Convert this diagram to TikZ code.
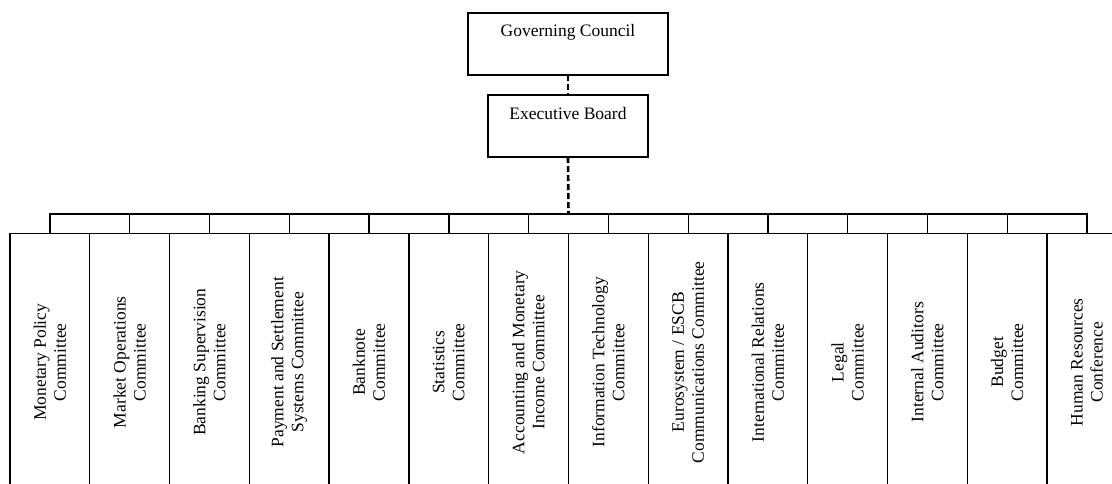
\documentclass[tikz,border=0pt]{standalone}
\usepackage{fontspec}
\setmainfont{Liberation Serif}
\begin{document}
\begin{tikzpicture}[x=1pt,y=-1pt,
  every node/.style={font=\fontsize{17.5}{20}\selectfont},
  frame/.style={draw, line width=1.3pt, inner sep=0pt, outer sep=0pt},
  topbox/.style={frame, minimum height=62pt},
  stripbox/.style={frame, minimum width=79.77pt, minimum height=19.7pt, anchor=north west},
  colbox/.style={frame, rotate=90, minimum width=257pt, minimum height=79.77pt, align=center},
  link/.style={line width=2.6pt, dash pattern=on 6pt off 3pt}]
\useasboundingbox (0,0) rectangle (1112,483);
\clip (0,0) rectangle (1112,483);
% top boxes
\node[topbox, minimum width=200pt] (gc) at (568,44) {};
\node (gct) at (568,32.5) {Governing Council};
\node[topbox, minimum width=160pt] (eb) at (568,126) {};
\node (ebt) at (568,113.5) {Executive Board};
% strip of small boxes
\foreach \i in {0,...,12} {
  \node[stripbox] (s\i) at ({50+79.77*\i},214) {};
}
% committee columns
\foreach \t [count=\i from 0] in {
  {Monetary Policy\\Committee},
  {Market Operations\\Committee},
  {Banking Supervision\\Committee},
  {Payment and Settlement\\Systems Committee},
  {Banknote\\Committee},
  {Statistics\\Committee},
  {Accounting and Monetary\\Income Committee},
  {Information Technology\\Committee},
  {Eurosystem / ESCB\\Communications Committee},
  {International Relations\\Committee},
  {Legal\\Committee},
  {Internal Auditors\\Committee},
  {Budget\\Committee},
  {Human Resources\\Conference}} {
  \node[colbox] (c\i) at ({10+79.77*\i+39.885},362.2) {\t};
}
% connectors
\draw[link] (gc.south) -- (eb.north);
\draw[link] (eb.south) -- (s6.north);
\end{tikzpicture}
\end{document}
